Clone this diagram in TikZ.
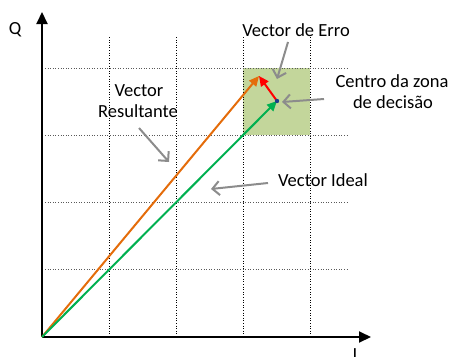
\documentclass[tikz,border=0pt]{standalone}
\usepackage{fontspec}
\setmainfont{Carlito}
\usetikzlibrary{arrows.meta}
\definecolor{zone}{HTML}{C3D69B}
\definecolor{vorange}{HTML}{E46C0A}
\definecolor{vgreen}{HTML}{00B050}
\definecolor{pgray}{HTML}{8C8C8C}
\definecolor{dotblue}{HTML}{1F3A8A}
\tikzset{
  lbl/.style={font=\fontsize{18.5pt}{21pt}\selectfont, inner sep=0pt, align=center},
  vgrid/.style={black, line width=0.9pt, dash pattern=on 1pt off 1.6pt},
  hgrid/.style={black!65, line width=0.9pt, dash pattern=on 1pt off 1.6pt},
  axis/.style={black, line width=2pt, -{Triangle[length=12pt,width=11pt]}},
  vec/.style={line width=2pt, -{Triangle[length=10pt,width=9pt]}},
  pointer/.style={pgray, line width=2pt, -{Straight Barb[length=7pt,width=14pt]}}
}
\begin{document}
\begin{tikzpicture}[x=1pt,y=-1pt]
\useasboundingbox (0,0) rectangle (454,356);
\fill[zone] (243,68) rectangle (310,135);
\foreach \x in {109,176,243,310} \draw[vgrid] (\x,37) -- (\x,336);
\foreach \y in {68,135,202,269} \draw[hgrid] (45,\y) -- (348,\y);
\coordinate (O) at (42,337);
\coordinate (Qtip) at (42,12);
\coordinate (Itip) at (371,337);
\draw[axis] (O) -- (Qtip);
\draw[axis] (O) -- (Itip);
\node[lbl, anchor=base] (Q) at (15,34) {Q};
\node[lbl, anchor=base] (I) at (355,360) {I};
\coordinate (C) at (277,101);
\coordinate (R) at (259,76);
\draw[vec, vorange] (O) -- (R);
\draw[vec, vgreen] (O) -- (C);
\draw[vec, red] (C) -- (R);
\fill[dotblue] (C) circle (2.2);
\node[lbl, anchor=base] (erro) at (296,36) {Vector de Erro};
\node[lbl, anchor=base] (centro1) at (392,87) {Centro da zona};
\node[lbl, anchor=base] (centro2) at (393,108) {de decisão};
\node[lbl, anchor=base] (res1) at (139,96) {Vector};
\node[lbl, anchor=base] (res2) at (138,117) {Resultante};
\node[lbl, anchor=base] (ideal) at (323,186) {Vector Ideal};
\coordinate (erroS) at (288,42);
\coordinate (erroE) at (277,79);
\coordinate (centroS) at (324,99);
\coordinate (centroE) at (282,102);
\coordinate (resS) at (139,128);
\coordinate (resE) at (169,162);
\coordinate (idealS) at (268,183);
\coordinate (idealE) at (211,189);
\draw[pointer] (erroS) -- (erroE);
\draw[pointer] (centroS) -- (centroE);
\draw[pointer] (resS) -- (resE);
\draw[pointer] (idealS) -- (idealE);
\end{tikzpicture}
\end{document}
